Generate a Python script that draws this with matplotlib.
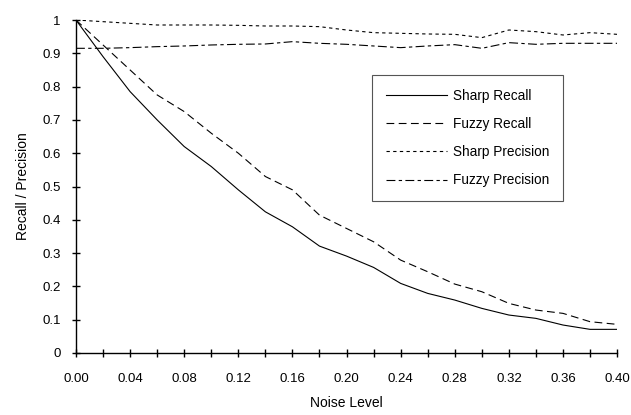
import matplotlib
matplotlib.use("Agg")
import matplotlib.pyplot as plt
from matplotlib.ticker import MultipleLocator, FixedLocator

plt.rcParams["font.family"] = ["Liberation Sans", "DejaVu Sans"]

noise = [0.00, 0.02, 0.04, 0.06, 0.08, 0.10, 0.12, 0.14, 0.16, 0.18, 0.20,
         0.22, 0.24, 0.26, 0.28, 0.30, 0.32, 0.34, 0.36, 0.38, 0.40]
sharp_recall = [1.0, 0.89, 0.785, 0.70, 0.62, 0.56, 0.49, 0.424, 0.379, 0.321, 0.291,
                0.257, 0.209, 0.179, 0.159, 0.134, 0.114, 0.104, 0.084, 0.071, 0.071]
fuzzy_recall = [1.0, 0.925, 0.85, 0.775, 0.725, 0.66, 0.60, 0.53, 0.49, 0.414, 0.374,
                0.334, 0.279, 0.244, 0.207, 0.184, 0.149, 0.129, 0.119, 0.094, 0.086]
sharp_precision = [1.0, 0.995, 0.99, 0.985, 0.985, 0.985, 0.984, 0.982, 0.982, 0.98, 0.97,
                   0.962, 0.96, 0.958, 0.957, 0.947, 0.97, 0.965, 0.955, 0.962, 0.957]
fuzzy_precision = [0.915, 0.915, 0.917, 0.92, 0.922, 0.925, 0.927, 0.928, 0.935, 0.93, 0.927,
                   0.922, 0.917, 0.922, 0.926, 0.915, 0.932, 0.927, 0.93, 0.93, 0.93]

fig = plt.figure(figsize=(6.31, 4.15), dpi=100)
ax = fig.add_axes([0.1204, 0.1494, 0.8576, 0.8024])

lw = 0.8
ax.plot(noise, sharp_recall, color="black", lw=lw, label="Sharp Recall")
ax.plot(noise, fuzzy_recall, color="black", lw=lw, dashes=(7, 4), label="Fuzzy Recall")
ax.plot(noise, sharp_precision, color="black", lw=lw, dashes=(3, 3), label="Sharp Precision")
ax.plot(noise, fuzzy_precision, color="black", lw=lw, dashes=(8, 3, 3, 3), label="Fuzzy Precision")

ax.set_xlim(0, 0.40)
ax.set_ylim(0, 1)
ax.spines["top"].set_visible(False)
ax.spines["right"].set_visible(False)
for s in ("left", "bottom"):
    ax.spines[s].set_linewidth(1.0)

ax.xaxis.set_major_locator(FixedLocator([0.04 * i for i in range(11)]))
ax.xaxis.set_minor_locator(MultipleLocator(0.02))
ax.set_xticklabels(["%.2f" % (0.04 * i) for i in range(11)])
ax.set_yticks([i / 10 for i in range(11)])
ax.set_yticklabels(["0", "0.1", "0.2", "0.3", "0.4", "0.5", "0.6", "0.7", "0.8", "0.9", "1"])

ax.tick_params(axis="x", which="both", direction="inout", length=6, width=1.0, pad=11.5, labelsize=9.5)
ax.tick_params(axis="y", which="both", direction="inout", length=6, width=1.0, pad=8, labelsize=9.5)

ax.set_xlabel("Noise Level", fontsize=10, labelpad=8)
ax.set_ylabel("Recall / Precision", fontsize=10, labelpad=9)

leg = ax.legend(loc="upper left", bbox_to_anchor=(0.547, 0.835), borderaxespad=0,
                fontsize=9.8, handlelength=4.5, handletextpad=0.45, labelspacing=1.05,
                borderpad=1.0, fancybox=False, framealpha=1, edgecolor="#555555")
leg.get_frame().set_linewidth(0.8)

fig.savefig("out.png", dpi=100)
